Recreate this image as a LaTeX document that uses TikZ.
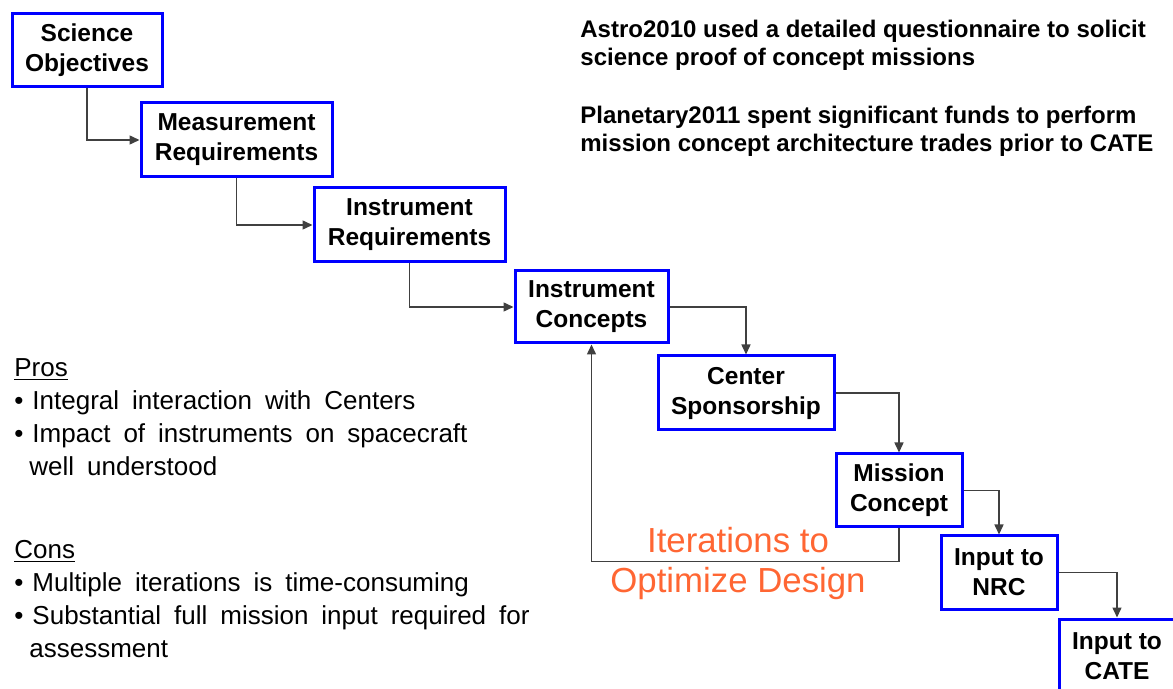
\documentclass[tikz,border=0pt]{standalone}
\usepackage{fontspec}
\setmainfont{Liberation Sans}
\usetikzlibrary{arrows.meta}
\definecolor{boxblue}{RGB}{0,0,255}
\definecolor{iterorange}{RGB}{255,102,51}
\newcommand\stagefont{\fontsize{12.25}{15}\selectfont\bfseries}
\newcommand\notefont{\fontsize{12}{14}\selectfont\bfseries}
\newcommand\listfont{\fontsize{13}{16.5}\selectfont\spaceskip=.5em\relax}
\newcommand\bul{•\hspace{4.5pt}}
\tikzset{
  stage/.style={draw=boxblue,line width=1.5pt,fill=white,align=center,inner sep=0pt,font=\stagefont},
  flow/.style={draw=black!75,line width=.75pt,-{Triangle[length=5pt,width=4.5pt]}},
  note/.style={align=left,inner sep=0pt,anchor=north west,font=\notefont},
  prolist/.style={align=left,inner sep=0pt,anchor=north west,font=\listfont},
}
\begin{document}
\begin{tikzpicture}[x=.5pt,y=-.5pt]
\useasboundingbox(0,0)rectangle(1173,689);

\node[stage,minimum width=75pt,minimum height=36.5pt](sci)at(87,50.5){Science\\Objectives};
\node[stage,minimum width=95.5pt,minimum height=37pt](meas)at(236.5,140){Measurement\\Requirements};
\node[stage,minimum width=95.5pt,minimum height=37pt](instreq)at(409.5,225){Instrument\\Requirements};
\node[stage,minimum width=76.5pt,minimum height=36pt](instcon)at(591.5,307){Instrument\\Concepts};
\node[stage,minimum width=88pt,minimum height=37pt](center)at(746,393){Center\\Sponsorship};
\node[stage,minimum width=63pt,minimum height=36.5pt](mission)at(899,490.5){Mission\\Concept};
\node[stage,minimum width=58pt,minimum height=36.5pt](nrc)at(999,572.5){Input to\\NRC};
\node[stage,minimum width=58pt,minimum height=37pt](cate)at(1117,656){Input to\\CATE};

\draw[flow](sci)|-(meas);
\draw[flow](meas)|-(instreq);
\draw[flow](instreq)|-(instcon);
\draw[flow](instcon)-|(center);
\draw[flow](center)-|(mission);
\draw[flow](mission)-|(nrc);
\draw[flow](nrc)-|(cate);
\draw[flow](mission.south)--++(0,33)-|(instcon.south);

\node[font=\fontsize{17.4}{20}\selectfont,text=iterorange,align=center,inner sep=0pt](iter)at(738,564){Iterations to\\Optimize Design};

\node[note](astro)at(580,19.5){Astro2010 used a detailed questionnaire to solicit\\science proof of concept missions};
\node[note](planet)at(580,106){Planetary2011 spent significant funds to perform\\mission concept architecture trades prior to CATE};

\node[prolist](pros)at(14,358){\underline{Pros}\\
\bul Integral interaction with Centers\\
\bul Impact of instruments on spacecraft\\
\hspace{7.5pt}well understood};
\node[prolist](cons)at(14,540){\underline{Cons}\\
\bul Multiple iterations is time-consuming\\
\bul Substantial full mission input required for\\
\hspace{7.5pt}assessment};
\end{tikzpicture}
\end{document}
